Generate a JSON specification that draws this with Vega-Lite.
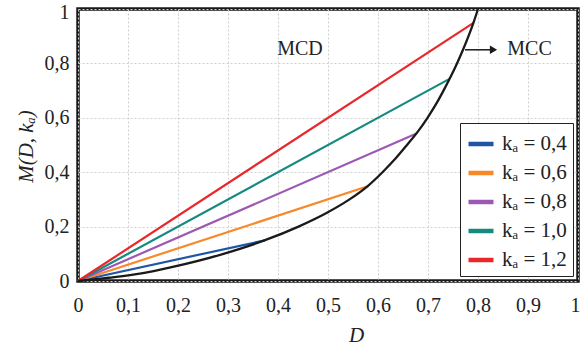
{
  "$schema": "https://vega.github.io/schema/vega-lite/v6.json",
  "width": 500,
  "height": 272,
  "autosize": {"type": "none"},
  "padding": {"left": 78, "top": 9, "right": 3, "bottom": 70},
  "background": "white",
  "config": {
    "view": {"stroke": "#1a1a1a", "strokeWidth": 3.5},
    "font": "Liberation Serif",
    "axis": {
      "domain": false,
      "ticks": false,
      "grid": true,
      "gridColor": "#cfcfcf",
      "gridDash": [2, 2],
      "gridWidth": 1,
      "labelFlush": false,
      "labelFont": "Liberation Serif",
      "labelFontSize": 20,
      "labelColor": "#222222",
      "titleFont": "Liberation Serif",
      "titleFontSize": 21,
      "titleFontWeight": "normal",
      "titleFontStyle": "italic",
      "titleColor": "#222222"
    }
  },
  "layer": [
    {
      "data": {
        "values": [
          {"k": "kₐ = 0,4", "D": 0, "M": 0},
          {"k": "kₐ = 0,4", "D": 0.374, "M": 0.1496},
          {"k": "kₐ = 0,6", "D": 0, "M": 0},
          {"k": "kₐ = 0,6", "D": 0.581, "M": 0.349},
          {"k": "kₐ = 0,8", "D": 0, "M": 0},
          {"k": "kₐ = 0,8", "D": 0.677, "M": 0.542},
          {"k": "kₐ = 1,0", "D": 0, "M": 0},
          {"k": "kₐ = 1,0", "D": 0.743, "M": 0.743},
          {"k": "kₐ = 1,2", "D": 0, "M": 0},
          {"k": "kₐ = 1,2", "D": 0.791, "M": 0.949}
        ]
      },
      "mark": {"type": "line", "strokeWidth": 2.2},
      "encoding": {
        "x": {
          "field": "D", "type": "quantitative",
          "scale": {"domain": [0, 1], "nice": false},
          "axis": {
            "values": [0, 0.1, 0.2, 0.3, 0.4, 0.5, 0.6, 0.7, 0.8, 0.9, 1],
            "labelExpr": "replace(format(datum.value, '.1~f'), '.', ',')",
            "labelOffset": {"condition": {"test": "datum.value == 1", "value": -3}, "value": 0},
            "labelPadding": 14,
            "title": "D",
            "titleX": 278,
            "titleY": 54,
            "titleAlign": "center",
            "titleBaseline": "middle"
          }
        },
        "y": {
          "field": "M", "type": "quantitative",
          "scale": {"domain": [0, 1], "nice": false},
          "axis": {
            "values": [0, 0.2, 0.4, 0.6, 0.8, 1],
            "labelExpr": "replace(format(datum.value, '.1~f'), '.', ',')",
            "labelOffset": {"condition": {"test": "datum.value == 1", "value": 3}, "value": 0},
            "labelPadding": 9,
            "title": "M(D, kₐ)",
            "titleX": -52,
            "titleY": 137,
            "titleAlign": "center",
            "titleBaseline": "middle",
            "titleAngle": -90
          }
        },
        "color": {
          "field": "k", "type": "nominal",
          "scale": {
            "domain": ["kₐ = 0,4", "kₐ = 0,6", "kₐ = 0,8", "kₐ = 1,0", "kₐ = 1,2"],
            "range": ["#1f55a6", "#f7892b", "#9b59b4", "#178a80", "#e8282b"]
          },
          "legend": {
            "title": null,
            "orient": "bottom-right",
            "offset": 5,
            "strokeColor": "#222222",
            "fillColor": "white",
            "padding": 6,
            "symbolType": "stroke",
            "symbolSize": 625,
            "symbolStrokeWidth": 4.5,
            "labelFont": "Liberation Serif",
            "labelFontSize": 21,
            "labelColor": "#222222",
            "labelOffset": 6,
            "rowPadding": 4
          }
        }
      }
    },
    {
      "data": {
        "values": [
          {"D": 0, "M": 0},
          {"D": 0.061, "M": 0.012},
          {"D": 0.127, "M": 0.028},
          {"D": 0.185, "M": 0.05},
          {"D": 0.291, "M": 0.1},
          {"D": 0.374, "M": 0.15},
          {"D": 0.441, "M": 0.2},
          {"D": 0.497, "M": 0.25},
          {"D": 0.543, "M": 0.3},
          {"D": 0.58, "M": 0.35},
          {"D": 0.609, "M": 0.4},
          {"D": 0.635, "M": 0.45},
          {"D": 0.658, "M": 0.5},
          {"D": 0.68, "M": 0.55},
          {"D": 0.699, "M": 0.6},
          {"D": 0.716, "M": 0.65},
          {"D": 0.731, "M": 0.7},
          {"D": 0.745, "M": 0.75},
          {"D": 0.758, "M": 0.8},
          {"D": 0.77, "M": 0.85},
          {"D": 0.781, "M": 0.9},
          {"D": 0.791, "M": 0.95},
          {"D": 0.8, "M": 1.0}
        ]
      },
      "mark": {"type": "line", "color": "#1a1a1a", "strokeWidth": 2.3, "interpolate": "monotone"},
      "encoding": {
        "x": {"field": "D", "type": "quantitative"},
        "y": {"field": "M", "type": "quantitative"}
      }
    },
    {
      "data": {"values": [{"D": 0.774, "D2": 0.83, "M": 0.85}]},
      "mark": {"type": "rule", "color": "#1a1a1a", "strokeWidth": 1.5},
      "encoding": {
        "x": {"field": "D", "type": "quantitative"},
        "x2": {"field": "D2"},
        "y": {"field": "M", "type": "quantitative"}
      }
    },
    {
      "data": {"values": [{"D": 0.831, "M": 0.85}]},
      "mark": {"type": "point", "shape": "triangle-right", "filled": true, "color": "#1a1a1a", "size": 70, "opacity": 1},
      "encoding": {
        "x": {"field": "D", "type": "quantitative"},
        "y": {"field": "M", "type": "quantitative"}
      }
    },
    {
      "data": {"values": [{"D": 0.444, "M": 0.853, "t": "MCD"}, {"D": 0.903, "M": 0.853, "t": "MCC"}]},
      "mark": {"type": "text", "font": "Liberation Serif", "fontSize": 20, "color": "#222222", "align": "center", "baseline": "middle"},
      "encoding": {
        "x": {"field": "D", "type": "quantitative"},
        "y": {"field": "M", "type": "quantitative"},
        "text": {"field": "t"}
      }
    }
  ]
}
